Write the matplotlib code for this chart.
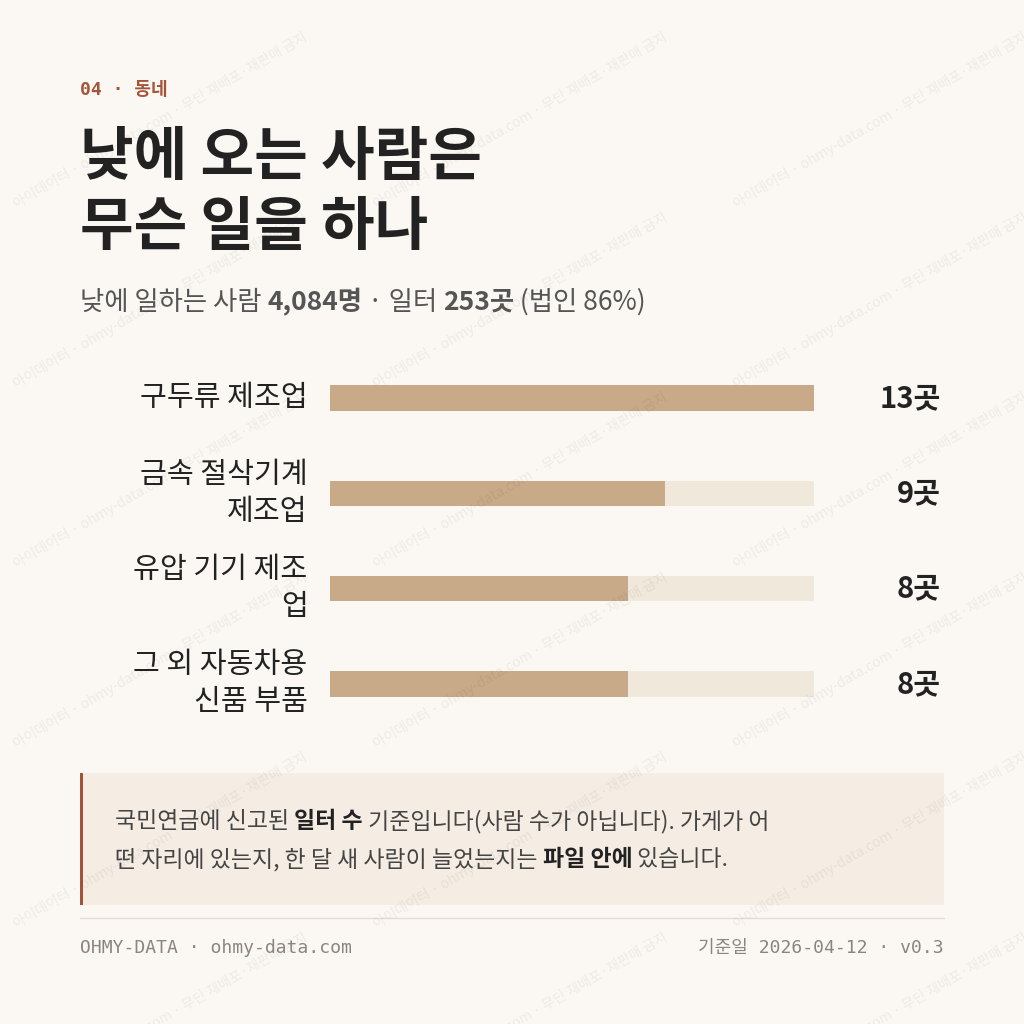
import matplotlib
matplotlib.use("Agg")
import matplotlib.pyplot as plt
from matplotlib.patches import Rectangle

categories = ["구두류 제조업", "금속 절삭기계\n제조업", "유압 기기 제조\n업", "그 외 자동차용\n신품 부품"]
values = [13, 9, 8, 8]
value_labels = ["13곳", "9곳", "8곳", "8곳"]

KR = ["Noto Sans CJK KR", "DejaVu Sans"]
MONO = ["DejaVu Sans Mono", "Noto Sans CJK KR"]
BG = "#fbf8f3"
DARK = "#222222"
GREY = "#555555"

fig = plt.figure(figsize=(10.24, 10.24), dpi=100, facecolor=BG)
W = H = 1024.0
def T(x, y, s, **kw):
    kw.setdefault("family", KR)
    return fig.text(x / W, 1 - y / H, s, **kw)

# watermark
for i in range(0, 6):
    for j in range(0, 3):
        x0 = j * 360 + 10
        y0 = i * 180 + 120
        T(x0, y0, "아이데이터 · ohmy-data.com · 무단 재배포·재판매 금지", fontsize=10,
          color="#000000", alpha=0.06, rotation=30, ha="left", va="center", style="italic")

T(80, 90, "04 · 동네", fontsize=13, color="#a5543a", family=MONO, weight="bold", va="center")
T(80, 193, "낮에 오는 사람은\n무슨 일을 하나", fontsize=42, color=DARK, weight="bold",
  va="center", linespacing=1.2)
parts = [("낮에 일하는 사람 ", "normal"), ("4,084명", "bold"), (" · 일터 ", "normal"),
         ("253곳", "bold"), (" (법인 86%)", "normal")]
r = fig.canvas.get_renderer()
x = 80
for s, w in parts:
    t = T(x, 302, s, fontsize=19, color=GREY, weight=w, va="center")
    x += t.get_window_extent(renderer=r).width

ax = fig.add_axes([330 / W, 1 - 731.5 / H, 484 / W, 381 / H])
ax.set_facecolor("none")
n = len(values)
ys = list(range(n))
ax.barh(ys, [max(values)] * n, height=0.27, color="#f1e8dc")
ax.barh(ys, values, height=0.27, color="#c8aa88")
ax.set_xlim(0, max(values))
ax.set_ylim(n - 0.5, -0.5)
ax.axis("off")
for yv, c, vl in zip(ys, categories, value_labels):
    ax.text(-0.6, yv, c, ha="right", va="center", fontsize=21, color=DARK, family=KR,
            linespacing=1.3)
    ax.text(max(values) + 3.4, yv, vl, ha="right", va="center", fontsize=21, color=DARK,
            family=KR, weight="bold")

# note box
fig.patches.append(Rectangle((80 / W, 1 - 905 / H), 864 / W, 132 / H, transform=fig.transFigure,
                             facecolor="#f5ede3", edgecolor="none"))
fig.patches.append(Rectangle((80 / W, 1 - 905 / H), 3 / W, 132 / H, transform=fig.transFigure,
                             facecolor="#a5543a", edgecolor="none"))
lines = [
    [("국민연금에 신고된 ", "normal"), ("일터 수", "bold"), (" 기준입니다(사람 수가 아닙니다). 가게가 어", "normal")],
    [("떤 자리에 있는지, 한 달 새 사람이 늘었는지는 ", "normal"), ("파일 안에", "bold"), (" 있습니다.", "normal")],
]
for li, line in enumerate(lines):
    x = 115
    for s, w in line:
        t = T(x, 822 + li * 38, s, fontsize=16.5, color="#444444" if w == "normal" else DARK,
              weight=w, va="center")
        x += t.get_window_extent(renderer=r).width

fig.add_artist(plt.Line2D([80 / W, 944 / W], [1 - 918 / H] * 2, color="#e4ddd3", lw=1))
T(80, 948, "OHMY-DATA · ohmy-data.com", fontsize=13, color="#8a8580", family=MONO, va="center")
T(944, 948, "기준일 2026-04-12 · v0.3", fontsize=13, color="#8a8580", family=MONO, va="center", ha="right")

fig.savefig("out.png", dpi=100, facecolor=BG)
